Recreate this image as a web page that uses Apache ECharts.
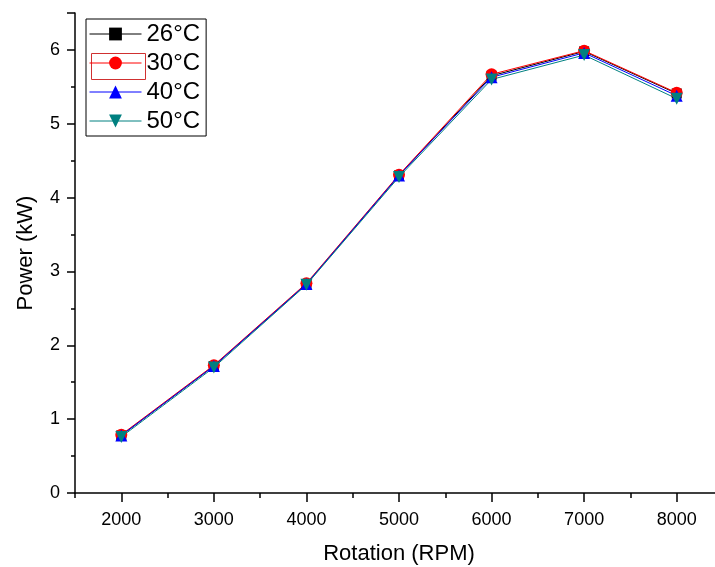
<!DOCTYPE html>
<html>
<head>
<meta charset="utf-8">
<script src="https://cdn.jsdelivr.net/npm/echarts@6/dist/echarts.min.js"></script>
<style>
html,body{margin:0;padding:0;background:#fff;}
#chartDiv{width:715px;height:567px;}
</style>
</head>
<body>
<div id="chartDiv"></div>
<script>
var rpm = [2000, 3000, 4000, 5000, 6000, 7000, 8000];
var p26 = [0.78, 1.72, 2.83, 4.30, 5.65, 5.98, 5.41];
var p30 = [0.79, 1.73, 2.84, 4.31, 5.67, 5.99, 5.42];
var p40 = [0.78, 1.72, 2.83, 4.30, 5.63, 5.96, 5.38];
var p50 = [0.76, 1.70, 2.82, 4.28, 5.60, 5.93, 5.34];
var seriesNames = ['26°C', '30°C', '40°C', '50°C'];
var majorX = [2000, 3000, 4000, 5000, 6000, 7000, 8000];
var minorX = [1500, 2500, 3500, 4500, 5500, 6500, 7500, 8500];

var fontName = 'Liberation Sans, Arial, sans-serif';
var myChart = echarts.init(document.getElementById('chartDiv'));

function pairs(vals){
	var out = [];
	for(var i=0;i<rpm.length;i++){
		out.push([rpm[i], vals[i]]);
	}
	return out;
}

function lineSeries(name, vals, color, symbol, rotate){
	return {
		name: name,
		type: 'line',
		data: pairs(vals),
		symbol: symbol,
		symbolSize: symbol == 'rect' ? 10 : 12,
		symbolRotate: rotate,
		lineStyle: {color: color, width: 1},
		itemStyle: {color: color},
		animation: false
	};
}

var option = {
	backgroundColor: '#fff',
	grid: {left: 75, top: 13, width: 648, height: 480, outerBoundsMode: 'none', containLabel: false},
	legend: {
		left: 86,
		top: 19,
		orient: 'vertical',
		data: seriesNames,
		itemWidth: 52,
		itemHeight: 16,
		itemGap: 5,
		padding: [3, 6, 3, 3],
		borderColor: '#000',
		borderWidth: 1,
		lineStyle: {width: 1},
		textStyle: {fontFamily: fontName, fontSize: 24, color: '#000'}
	},
	graphic: [{
		type: 'rect',
		left: 89,
		top: 51,
		shape: {width: 54, height: 26},
		style: {fill: 'none', stroke: '#d03030', lineWidth: 1}
	}],
	xAxis: [{
		type: 'value',
		min: 1500,
		max: 8500,
		name: 'Rotation (RPM)',
		nameLocation: 'middle',
		nameGap: 50,
		nameTextStyle: {fontFamily: fontName, fontSize: 22, color: '#000'},
		axisLine: {show: true, onZero: false, lineStyle: {color: '#000', width: 1.5}},
		axisTick: {show: true, length: 9, customValues: majorX, lineStyle: {color: '#000', width: 1.5}},
		axisLabel: {
			customValues: majorX, margin: 18, fontFamily: fontName, fontSize: 18, color: '#000',
			formatter: function(v){ return String(v); }
		},
		splitLine: {show: false}
	}, {
		type: 'value',
		min: 1500,
		max: 8500,
		position: 'bottom',
		axisLine: {show: false},
		axisTick: {show: true, length: 5, customValues: minorX, lineStyle: {color: '#000', width: 1.5}},
		axisLabel: {show: false},
		splitLine: {show: false}
	}],
	yAxis: {
		type: 'value',
		min: 0,
		max: 6.5,
		interval: 1,
		name: 'Power (kW)',
		nameLocation: 'middle',
		nameGap: 38,
		nameTextStyle: {fontFamily: fontName, fontSize: 22, color: '#000'},
		axisLine: {show: true, lineStyle: {color: '#000', width: 1.5}},
		axisTick: {show: true, length: 8, lineStyle: {color: '#000', width: 1.5}},
		minorTick: {show: true, splitNumber: 2, length: 4, lineStyle: {color: '#000', width: 1.5}},
		axisLabel: {
			margin: 15, fontFamily: fontName, fontSize: 18, color: '#000',
			formatter: function(v){ return v == 6.5 ? '' : String(v); }
		},
		splitLine: {show: false}
	},
	series: [
		lineSeries(seriesNames[0], p26, '#000000', 'rect', 0),
		lineSeries(seriesNames[1], p30, '#ff0000', 'circle', 0),
		lineSeries(seriesNames[2], p40, '#0000ff', 'triangle', 0),
		lineSeries(seriesNames[3], p50, '#008080', 'triangle', 180)
	]
};
myChart.setOption(option);
</script>
</body>
</html>
